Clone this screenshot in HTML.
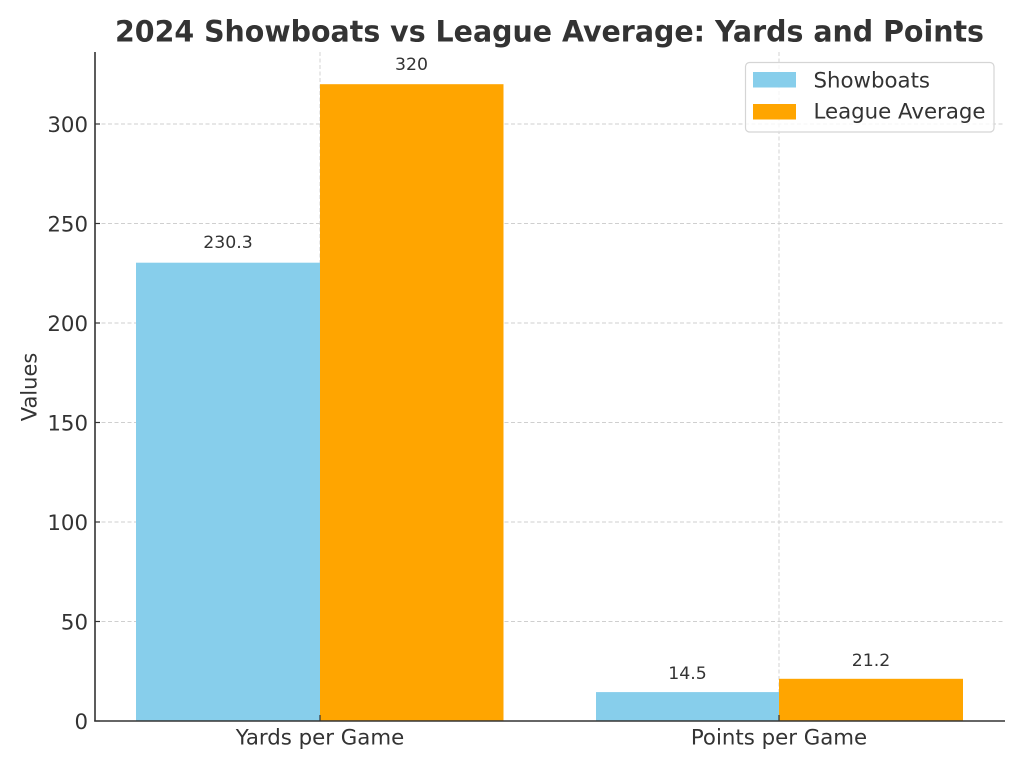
<!DOCTYPE html>
<html>
<head>
<meta charset="utf-8">
<style>
html,body{margin:0;padding:0;background:#fff;}
svg{display:block;}
text{font-family:"DejaVu Sans","Liberation Sans",sans-serif;fill:#333;}
</style>
</head>
<body>
<svg width="1024" height="768" viewBox="0 0 1024 768" xmlns="http://www.w3.org/2000/svg">
<rect width="1024" height="768" fill="#fff"/>
<!-- grid -->
<g stroke="#cfcfcf" stroke-width="0.9" stroke-dasharray="4,2.5" fill="none">
<line x1="95" y1="621.5" x2="1005" y2="621.5"/>
<line x1="95" y1="522" x2="1005" y2="522"/>
<line x1="95" y1="422.5" x2="1005" y2="422.5"/>
<line x1="95" y1="323" x2="1005" y2="323"/>
<line x1="95" y1="223.5" x2="1005" y2="223.5"/>
<line x1="95" y1="124" x2="1005" y2="124"/>
<line x1="320" y1="52" x2="320" y2="721"/>
<line x1="779" y1="52" x2="779" y2="721"/>
</g>
<!-- bars -->
<rect x="136" y="262.7" width="184" height="458.3" fill="#87CEEB"/>
<rect x="320" y="84.2" width="183.5" height="636.8" fill="#FFA500"/>
<rect x="596" y="692.1" width="183" height="28.9" fill="#87CEEB"/>
<rect x="779" y="678.8" width="184" height="42.2" fill="#FFA500"/>
<!-- value labels -->
<g font-size="17.3" text-anchor="middle">
<text x="228" y="248">230.3</text>
<text x="411.5" y="70">320</text>
<text x="687.5" y="679">14.5</text>
<text x="871" y="666">21.2</text>
</g>
<!-- spines -->
<g stroke="#333" stroke-width="1.6" fill="none">
<line x1="95" y1="52" x2="95" y2="721.5"/>
<line x1="94.2" y1="721" x2="1005" y2="721"/>
</g>
<!-- ticks -->
<g stroke="#333" stroke-width="1.2">
<line x1="95" y1="721" x2="100" y2="721"/>
<line x1="95" y1="621.5" x2="100" y2="621.5"/>
<line x1="95" y1="522" x2="100" y2="522"/>
<line x1="95" y1="422.5" x2="100" y2="422.5"/>
<line x1="95" y1="323" x2="100" y2="323"/>
<line x1="95" y1="223.5" x2="100" y2="223.5"/>
<line x1="95" y1="124" x2="100" y2="124"/>
<line x1="320" y1="715" x2="320" y2="721"/>
<line x1="779" y1="715" x2="779" y2="721"/>
</g>
<!-- y tick labels -->
<g font-size="21.3" text-anchor="end">
<text x="88" y="728.8">0</text>
<text x="88" y="629.3">50</text>
<text x="88" y="529.8">100</text>
<text x="88" y="430.3">150</text>
<text x="88" y="330.8">200</text>
<text x="88" y="231.3">250</text>
<text x="88" y="131.8">300</text>
</g>
<!-- x labels -->
<g font-size="21.3" text-anchor="middle">
<text x="320" y="744.5">Yards per Game</text>
<text x="779" y="744.5">Points per Game</text>
</g>
<!-- y axis label -->
<text font-size="21" text-anchor="middle" transform="translate(36.5,387) rotate(-90)">Values</text>
<!-- title -->
<text x="549.5" y="41.5" font-size="29.5" font-weight="bold" text-anchor="middle" textLength="869" lengthAdjust="spacingAndGlyphs">2024 Showboats vs League Average: Yards and Points</text>
<!-- legend -->
<rect x="745.5" y="62.5" width="248.5" height="69.5" rx="4" ry="4" fill="#fff" fill-opacity="0.8" stroke="#d5d5d5" stroke-width="1.2"/>
<rect x="753" y="72" width="43" height="15.5" fill="#87CEEB"/>
<rect x="753" y="104" width="43" height="15.5" fill="#FFA500"/>
<g font-size="21.3">
<text x="813.5" y="87.5">Showboats</text>
<text x="813.5" y="118.5">League Average</text>
</g>
</svg>
</body>
</html>
